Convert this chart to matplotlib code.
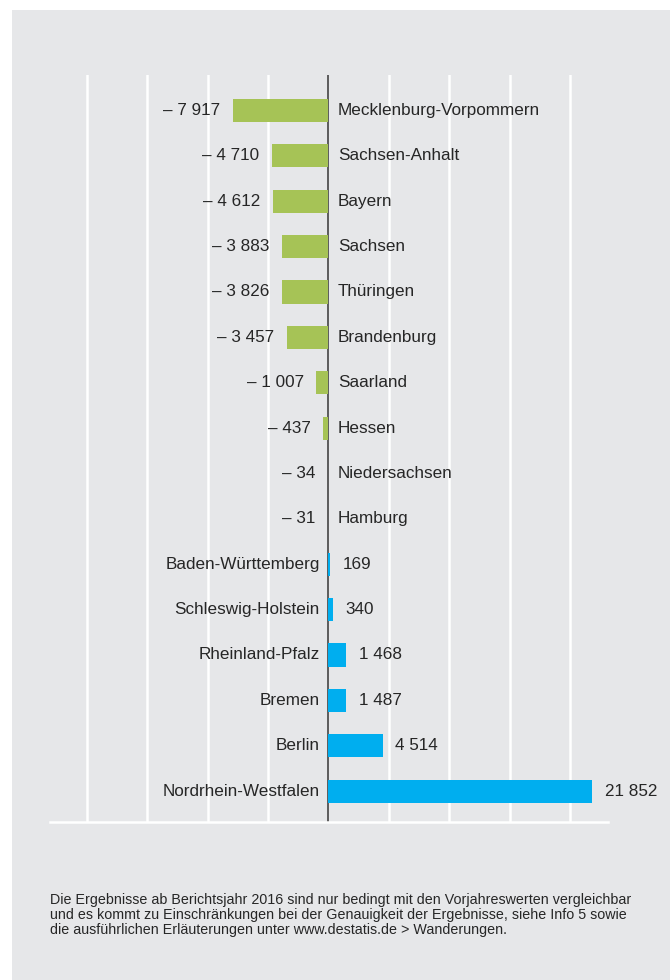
import matplotlib
matplotlib.use("Agg")
import matplotlib.pyplot as plt
import matplotlib.patches as mpatches

states = ["Mecklenburg-Vorpommern", "Sachsen-Anhalt", "Bayern", "Sachsen", "Thüringen",
          "Brandenburg", "Saarland", "Hessen", "Niedersachsen", "Hamburg",
          "Baden-Württemberg", "Schleswig-Holstein", "Rheinland-Pfalz", "Bremen",
          "Berlin", "Nordrhein-Westfalen"]
values = [-7917, -4710, -4612, -3883, -3826, -3457, -1007, -437, -34, -31,
          169, 340, 1468, 1487, 4514, 21852]
grid_ticks = [-20000, -15000, -10000, -5000, 5000, 10000, 15000, 20000]
footnote = ("Die Ergebnisse ab Berichtsjahr 2016 sind nur bedingt mit den Vorjahreswerten vergleichbar\n"
            "und es kommt zu Einschränkungen bei der Genauigkeit der Ergebnisse, siehe Info 5 sowie\n"
            "die ausführlichen Erläuterungen unter www.destatis.de > Wanderungen.")

plt.rcParams['font.family'] = ['Liberation Sans', 'DejaVu Sans']

BG = "#e6e7e9"
GREEN = "#a6c356"
BLUE = "#00aeef"
TXT = "#262626"

fig = plt.figure(figsize=(6.7, 9.8), dpi=100)
fig.patch.set_facecolor("white")
fig.patches.append(mpatches.Rectangle((12/670, 0), 1, 1 - 10/980, transform=fig.transFigure,
                                      facecolor=BG, edgecolor="none", zorder=-10))

ax = fig.add_axes([50/670, 1 - 822/980, (608 - 50)/670, (822 - 75)/980])
ax.set_facecolor(BG)
ax.patch.set_alpha(0)

ypos = list(range(len(states)))
colors = [GREEN if v < 0 else BLUE for v in values]
ax.barh(ypos, values, height=0.51, color=colors, zorder=3)

for g in grid_ticks:
    ax.axvline(g, color="white", lw=1.8, zorder=1)
ax.axvline(0, color="#444444", lw=1.2, zorder=2)

ax.set_xlim(-23050, 23140)
ax.set_ylim(15.68, -0.78)

for sp in ["top", "left", "right"]:
    ax.spines[sp].set_visible(False)
ax.spines["bottom"].set_color("white")
ax.spines["bottom"].set_linewidth(1.8)
ax.set_xticks([])
ax.set_yticks([])

def fmt(v):
    s = f"{abs(v):,}".replace(",", " ")
    return ("– " + s) if v < 0 else s

fs = 12.3
for y, name, v in zip(ypos, states, values):
    if v < 0:
        ax.annotate(name, (0, y), xytext=(6.8, 0), textcoords="offset points",
                    ha="left", va="center", fontsize=fs, color=TXT, zorder=5)
        ax.annotate(fmt(v), (v, y), xytext=(-9, 0), textcoords="offset points",
                    ha="right", va="center", fontsize=fs, color=TXT, zorder=5)
    else:
        ax.annotate(name, (0, y), xytext=(-6.2, 0), textcoords="offset points",
                    ha="right", va="center", fontsize=fs, color=TXT, zorder=5)
        ax.annotate(fmt(v), (v, y), xytext=(9, 0), textcoords="offset points",
                    ha="left", va="center", fontsize=fs, color=TXT, zorder=5)

fig.text(50/670, 1 - 893/980, footnote, ha="left", va="top", fontsize=10.3,
         color=TXT, linespacing=1.09)

fig.savefig("out.png", dpi=100, facecolor=fig.get_facecolor())
